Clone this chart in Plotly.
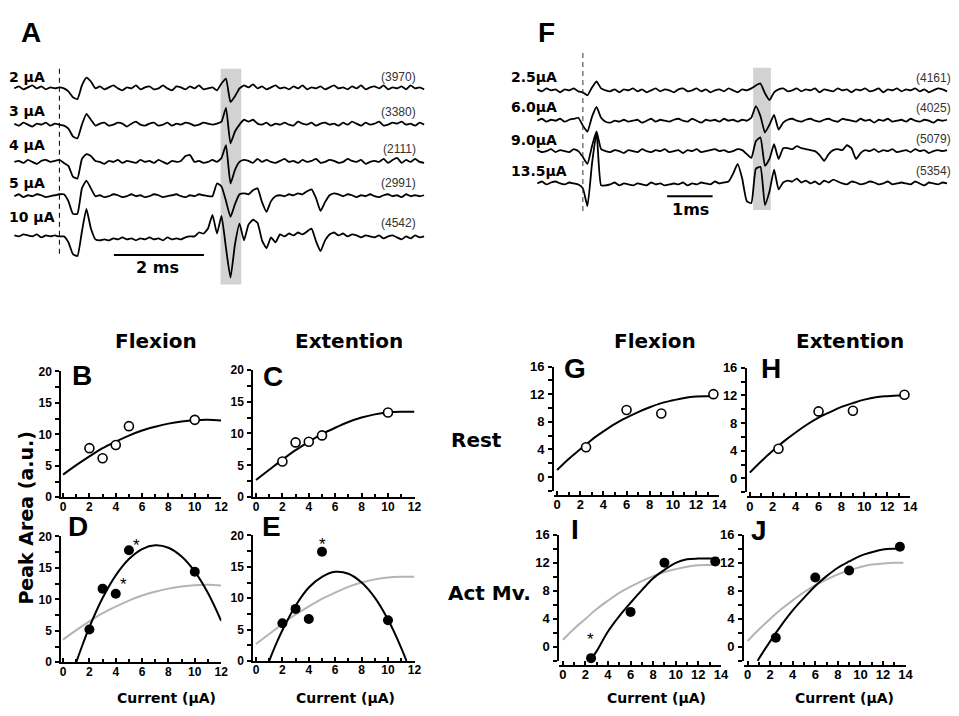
import numpy as np
import plotly.graph_objects as go

# ======================= DATA =======================
# --- Panel A: averaged sweeps (deflection, display units), t grid relative to stimulus (ms)
A_labels = ["2 µA", "3 µA", "4 µA", "5 µA", "10 µA"]
A_counts = ["(3970)", "(3380)", "(2111)", "(2991)", "(4542)"]
A_t_start, A_t_step = -1.0, 0.1
A_2uA = [0, 2, -1, 1, 3, 0, 2, -1, 1, 0,
         1, 0, -3, -9, -11, 3, 11, 7, 0, 2,
         -1, 1, 3, 0, -2, 1, 0, 3, -1, 1,
         2, -1, 0, 3, 0, -2, 2, 1, -1, 2,
         0, 3, -1, 0, 1, -2, 5, 10, -14, -8,
         0, 3, 1, 4, 0, 2, -1, 1, 3, 0,
         1, -1, 2, 0, 3, -1, 1, 0, 2, -1,
         1, 3, 0, 1, -1, 2, 0, 3, -1, 1,
         2, 0, 3, -1, 1, 0, 2, -1, 3, 0,
         1, -1]
A_3uA = [1, -1, 2, 0, -2, 1, 0, 2, -1, 1,
         0, -1, -4, -12, -14, 0, 11, 5, -1, 1,
         2, -1, 0, 2, 1, -2, 1, 3, 0, -1,
         1, 2, -1, 0, 2, -1, 1, 0, 2, 1,
         -1, 0, 2, 1, 0, 1, 3, 17, -19, -7,
         0, 5, 3, 5, 1, 0, 2, -1, 1, 0,
         2, 0, -1, 3, 1, 0, 2, -1, 1, 2,
         0, 1, -1, 2, 0, 3, 1, -1, 2, 0,
         1, 3, -1, 0, 2, 1, 3, 0, 1, -1,
         2, 0]
A_4uA = [0, 1, -1, 2, 0, -2, 1, 2, 0, 1,
         2, -1, -4, -15, -17, 3, 8, 6, 1, 0,
         -2, 1, 0, 2, -1, 1, 0, -1, 2, 0,
         1, -1, 2, 0, -2, 1, 0, 1, 6, 7,
         0, 1, -1, 0, 2, 0, 4, 17, -22, -8,
         0, 2, 1, -1, 3, 0, 2, 0, -1, 1,
         3, 0, 1, -1, 2, 0, 1, 3, -1, 0,
         2, 1, -1, 0, 3, 1, 0, 2, -2, 0,
         1, 0, 3, -1, 2, 4, -1, 2, 0, 3,
         0, -1]
A_5uA = [0, 2, -1, 1, 0, 2, 1, -1, 0, 1,
         2, 2, -5, -18, -18, 8, 16, 8, 0, 1,
         -1, 0, 2, 1, -1, 0, 2, 0, 1, -1,
         0, 2, 1, -1, 0, 1, 2, 0, -1, 1,
         0, 2, 1, 0, 0, 13, 10, -5, -21, -8,
         2, 3, 2, 6, 8, -6, -16, -5, 0, 1,
         0, 2, 1, 3, 2, 5, 7, -2, -15, -6,
         1, 3, 2, 0, 2, 1, -1, 1, 0, 2,
         0, -1, 1, 2, 0, 1, -1, 2, 0, 1,
         0, 1]
A_10uA = [1, 0, 2, 1, 0, 2, -1, 1, 0, 1,
          0, 0, -6, -18, -20, 5, 28, 8, -3, -4,
          -3, -4, -2, -3, -1, -3, -2, -4, -2, -3,
          -1, -3, -2, -4, -1, -3, -2, -3, -1, 0,
          0, 4, 3, 8, 22, 3, 21, -12, -42, -8,
          13, -4, 12, 17, 14, -4, -12, -1, -6, 2,
          0, 3, 1, 4, 2, 5, 8, -5, -15, -4,
          2, 4, 1, 3, 0, 2, 1, -1, 1, 0,
          -1, 1, -2, 0, 1, -1, -3, 0, -2, 1,
          -1, 0]
A_window_ms = (3.58, 4.04)
A_scale_ms = 2

# --- Panel F
F_labels = ["2.5µA", "6.0µA", "9.0µA", "13.5µA"]
F_counts = ["(4161)", "(4025)", "(5079)", "(5354)"]
F_t_start, F_t_step = -1.0, 0.1
F_2p5uA = [1, -1, 2, 0, 1, -2, 1, 0, 2, -1,
           -2, -5, 3, 9, 2, 0, -1, 1, -2, 1,
           0, 2, -1, 1, -2, 0, 2, -1, 1, 0,
           -2, 1, 2, -1, 0, 2, -1, 1, -2, 0,
           1, -1, 2, 0, -2, 1, 0, 2, 5, 7,
           -3, -10, -2, 1, 2, -1, 0, 2, -1, 1,
           0, 2, -2, 1, 0, -1, 2, 0, 1, -2,
           1, 0, 2, -1, 0, 2, -2, 1, 0, 2,
           -1, 1, 0, 2, -1, 1, -2, 0, 2, 1,
           -1]
F_6uA = [0, 2, -1, 1, 0, 2, -1, 1, 2, 3,
         -5, -11, 4, 14, 3, -1, -2, 0, -1, 1,
         -1, 0, 1, -2, 0, 2, -1, 1, 0, -1,
         1, 2, 0, -1, 2, 0, -2, 1, 0, 1,
         -1, 2, 0, 1, -1, 1, 0, 3, 15, 5,
         -12, -4, 6, -9, -2, 1, 2, 0, -1, 1,
         2, 0, -1, 1, 2, 0, -1, 2, 1, 0,
         -1, 2, 0, 1, -2, 1, 0, 2, -1, 0,
         1, -1, 2, 0, -1, 1, 0, -2, 1, 0,
         1]
F_9uA = [1, -1, 0, 2, -1, 1, 0, -1, 2, 0,
         -6, -13, 5, 20, 2, 0, -1, 1, 0, -2,
         1, 0, -1, 2, 0, -1, 1, 0, 2, -1,
         0, 1, -2, 1, 0, 2, -1, 0, 1, 2,
         0, 1, -1, 0, 2, 1, -3, -7, 10, 14,
         -15, -8, 7, -8, 3, 3, 2, 5, 3, 2,
         1, 0, -4, -10, -3, 1, 2, 1, 6, 3,
         -8, -2, 1, 0, 2, -1, 1, 0, 2, -1,
         0, 1, -1, 2, 0, 1, -2, 0, 1, 0,
         1]
F_13p5uA = [0, 2, -1, 1, 2, 0, -1, 1, 0, -1,
            -5, -23, 20, 52, -2, -2, -1, 1, -2, 0,
            -1, -2, 0, -1, -2, 1, -1, 0, -2, -1,
            0, -1, 1, -2, 0, -1, 1, 0, -1, 2,
            0, 1, 2, 10, 20, 5, -18, -20, 15, 17,
            -22, -8, 14, -6, 1, 3, 2, 5, 1, 3,
            0, 2, -1, 3, 1, 4, 2, 0, -1, 2,
            1, -1, 0, 2, 1, -1, 0, 2, -1, 0,
            1, 0, -1, 2, 0, -2, 1, 0, -1, 1,
            0]
F_window_ms = (3.74, 4.13)
F_scale_ms = 1

# --- Panels B-E (current in µA, peak area a.u.)
cur_BE = [2, 3, 4, 5, 10]
B_rest_flex = [7.8, 6.2, 8.3, 11.3, 12.3]
C_rest_ext = [5.6, 8.6, 8.7, 9.7, 13.3]
D_act_flex = [5.2, 11.7, 10.9, 17.8, 14.4]
E_act_ext = [6.0, 8.3, 6.7, 17.4, 6.5]
D_marked = [4, 5]
E_marked = [5]

fitx_rest_BE = [0, 1, 2, 3, 4, 5, 6, 7, 8, 9, 10, 11, 12]
B_fit = [3.6, 5.1, 6.5, 7.8, 8.85, 9.8, 10.6, 11.2, 11.7, 12.05, 12.25, 12.3, 12.2]
C_fit = [2.7, 4.3, 5.9, 7.4, 8.7, 9.9, 10.9, 11.8, 12.5, 13.0, 13.3, 13.4, 13.4]
D_fitx = [1, 1.5, 2, 3, 4, 5, 6, 7, 8, 9, 10, 11, 12]
D_fit = [0, 2.9, 5.6, 10.2, 13.8, 16.4, 18.0, 18.6, 18.2, 16.8, 14.4, 11.0, 6.6]
E_fitx = [1, 1.5, 2, 3, 4, 5, 6, 7, 8, 9, 10, 11, 11.4]
E_fit = [0, 2.6, 4.9, 8.8, 11.7, 13.4, 14.2, 13.9, 12.5, 10.1, 6.6, 2.1, 0]

# --- Panels G-J
cur_GJ = [2.5, 6, 9, 13.5]
G_rest_flex = [4.3, 9.7, 9.2, 12.0]
H_rest_ext = [4.3, 9.7, 9.8, 12.1]
I_act_flex = [-1.6, 5.0, 12.0, 12.2]
J_act_ext = [1.3, 9.9, 10.9, 14.3]
I_marked = [2.5]

fitx_rest_GJ = [0, 1, 2, 3, 4, 5, 6, 7, 8, 9, 10, 11, 12, 13, 13.8]
G_fit = [1.0, 2.6, 4.0, 5.4, 6.6, 7.7, 8.6, 9.4, 10.1, 10.7, 11.1, 11.45, 11.65, 11.7, 11.7]
H_fit = [0.85, 2.5, 4.0, 5.4, 6.65, 7.8, 8.8, 9.6, 10.35, 10.9, 11.4, 11.75, 11.9, 12.0, 12.0]
I_fitx = [2.7, 3, 4, 5, 6, 7, 8, 9, 10, 11, 12, 13, 13.8]
I_fit = [-1.3, -0.6, 2.2, 4.4, 6.3, 8.1, 9.8, 11.0, 12.0, 12.5, 12.6, 12.6, 12.6]
J_fitx = [0.9, 1, 2, 3, 4, 5, 6, 7, 8, 9, 10, 11, 12, 13, 13.8]
J_fit = [-2.0, -1.7, 0.8, 3.1, 5.2, 7.0, 8.7, 10.1, 11.3, 12.2, 13.0, 13.5, 13.9, 14.0, 14.0]

# ======================= LAYOUT HELPERS =======================
W, H = 959, 716
def fx(px): return px / W
def fy(py): return 1 - py / H

BOLD = "DejaVu Sans"
ARIAL = "Liberation Sans, Arial"
GRAY = "#b4b4b4"

fig = go.Figure()
ann = []
shapes = []

def txt(text, px, py, size, family=BOLD, bold=True, xanchor="center",
        yanchor="middle", color="black", angle=0, box_h=None):
    a = dict(text=text, x=fx(px), y=fy(py), xref="paper", yref="paper",
             xanchor=xanchor, yanchor=yanchor, showarrow=False, textangle=angle,
             font=dict(family=family, size=size, color=color,
                       weight="bold" if bold else "normal"))
    if box_h is not None:
        a["height"] = box_h
        a["valign"] = "middle"
    ann.append(a)

# ---------- sweeps panels ----------
A_sweeps = [A_2uA, A_3uA, A_4uA, A_5uA, A_10uA]
A_base_px = [83, 120, 158, 193, 234]
F_sweeps = [F_2p5uA, F_6uA, F_9uA, F_13p5uA]
F_base_px = [85, 116, 147, 180]

for sweeps, base, t0, dt, xa, ya in [(A_sweeps, A_base_px, A_t_start, A_t_step, "x", "y"),
                                      (F_sweeps, F_base_px, F_t_start, F_t_step, "x2", "y2")]:
    for vals, b in zip(sweeps, base):
        t = np.round(t0 + dt * np.arange(len(vals)), 3)
        fig.add_trace(go.Scatter(x=t, y=np.array(vals) - b, mode="lines",
                                 line=dict(color="black", width=1.8, shape="spline", smoothing=0.45),
                                 xaxis=xa, yaxis=ya, showlegend=False, hoverinfo="skip"))

A_stim_px, A_px_per_ms = 58, 45.5
F_stim_px, F_px_per_ms = 587, 46
lay = {}
lay["xaxis"] = dict(domain=[0, fx(440)], range=[(0 - A_stim_px) / A_px_per_ms, (440 - A_stim_px) / A_px_per_ms],
                    visible=False, anchor="y")
lay["yaxis"] = dict(domain=[fy(295), fy(40)], range=[-295, -40], visible=False, anchor="x")
lay["xaxis2"] = dict(domain=[fx(500), 1], range=[(500 - F_stim_px) / F_px_per_ms, (959 - F_stim_px) / F_px_per_ms],
                     visible=False, anchor="y2")
lay["yaxis2"] = dict(domain=[fy(220), fy(40)], range=[-220, -40], visible=False, anchor="x2")

# shading windows, stimulus dashed lines, scale bars
shapes.append(dict(type="rect", xref="x", yref="y", x0=A_window_ms[0], x1=A_window_ms[1], y0=-283, y1=-63,
                   fillcolor="#d2d2d2", line=dict(width=0), layer="below"))
shapes.append(dict(type="rect", xref="x2", yref="y2", x0=F_window_ms[0], x1=F_window_ms[1], y0=-207, y1=-62,
                   fillcolor="#d2d2d2", line=dict(width=0), layer="below"))
shapes.append(dict(type="line", xref="x", yref="y", x0=0, x1=0, y0=-63, y1=-252,
                   line=dict(color="black", width=1, dash="5px,4px")))
shapes.append(dict(type="line", xref="x2", yref="y2", x0=0, x1=0, y0=-47, y1=-210,
                   line=dict(color="#333", width=1, dash="5px,4px")))
shapes.append(dict(type="line", xref="x", yref="y", x0=1.21, x1=1.21 + A_scale_ms, y0=-253, y1=-253,
                   line=dict(color="black", width=2)))
shapes.append(dict(type="line", xref="x2", yref="y2", x0=1.85, x1=1.85 + F_scale_ms, y0=-193, y1=-193,
                   line=dict(color="black", width=2)))

txt("A", 29, 26, 28, ARIAL, box_h=24)
txt("F", 550, 25, 28, ARIAL, box_h=24)
for lab, py in zip(A_labels, [71, 106, 141, 180, 214]):
    txt(lab, 5, py, 14, xanchor="left")
for lab, py in zip(A_counts, [71, 107, 145, 180, 220]):
    txt(lab, 420, py, 12, ARIAL, bold=False, xanchor="right", color="#333")
for lab, py in zip(F_labels, [71, 102, 136, 167]):
    txt(lab, 512, py, 14, xanchor="left")
for lab, py in zip(F_counts, [72, 103, 135, 167]):
    txt(lab, 922, py, 12, ARIAL, bold=False, xanchor="left", color="#333")
txt("2 ms", 157, 266, 16)
txt("1ms", 696, 207, 16)

# ---------- scatter panels ----------
def axis_pair(n, xdom, ydom, xr, yr, xdt, ydt, ydt_minor, tsize, free_pos=None):
    tf = dict(family=ARIAL, size=tsize, color="black", weight="bold")
    xa = dict(domain=[fx(xdom[0]), fx(xdom[1])], range=xr, showline=True, linecolor="black", linewidth=2,
              showgrid=False, zeroline=False, ticks="inside", ticklen=4, tickwidth=1.5, tickcolor="black",
              tick0=0, dtick=xdt, tickfont=tf, ticklabelstandoff=-3,
              minor=dict(ticks="inside", dtick=1, tick0=0, ticklen=3, tickwidth=1.5, tickcolor="black"))
    if free_pos is None:
        xa["anchor"] = f"y{n}"
    else:
        xa["anchor"] = "free"
        xa["position"] = fy(free_pos)
    ya = dict(domain=[fy(ydom[1]), fy(ydom[0])], range=yr, showline=True, linecolor="black", linewidth=2,
              showgrid=False, zeroline=False, ticks="outside", ticklen=4, tickwidth=1.5, tickcolor="black",
              tick0=0, dtick=ydt, tickfont=tf, anchor=f"x{n}", ticklabelstandoff=1,
              minor=dict(ticks="outside", dtick=ydt_minor, tick0=0, ticklen=4, tickwidth=1.5, tickcolor="black"))
    lay[f"xaxis{n}"] = xa
    lay[f"yaxis{n}"] = ya

# B, C, D, E
axis_pair(3, (60, 221.7), (371.7, 500), [-0.13, 12.02], [0, 20], 2, 5, 2.5, 12)
axis_pair(4, (254, 417), (370, 500), [-0.2, 12.02], [0, 20], 2, 5, 2.5, 12)
axis_pair(5, (60, 221.7), (540, 668.3), [-0.13, 12.02], [0, 20], 2, 5, 2.5, 12)
axis_pair(6, (254, 417), (539, 667), [-0.2, 12.02], [0, 20], 2, 5, 2.5, 12)
# G, H, I, J
axis_pair(7, (558, 725), (366.7, 493.4), [-0.25, 14.02], [-2, 16], 2, 4, 2, 13, free_pos=498.3)
axis_pair(8, (752.8, 918), (368, 495), [-0.25, 14.02], [-2, 16], 2, 4, 2, 13, free_pos=500)
axis_pair(9, (563.3, 726.7), (538.3, 667), [-0.3, 14.02], [-2, 16], 2, 4, 2, 13, free_pos=671.7)
axis_pair(10, (750, 913.3), (538.3, 667), [-0.3, 14.02], [-2, 16], 2, 4, 2, 13, free_pos=671.7)

def curve(n, x, y, color="black"):
    fig.add_trace(go.Scatter(x=x, y=y, mode="lines", line=dict(color=color, width=2, shape="spline"),
                             xaxis=f"x{n}", yaxis=f"y{n}", showlegend=False, hoverinfo="skip"))

def points(n, x, y, filled):
    mk = dict(size=10, color="black") if filled else dict(size=9, color="white", line=dict(color="black", width=1.6))
    fig.add_trace(go.Scatter(x=x, y=y, mode="markers", marker=mk, cliponaxis=False,
                             xaxis=f"x{n}", yaxis=f"y{n}", showlegend=False, hoverinfo="skip"))

def star(n, xv, xs, ys, dx, dy):
    yv = ys[xs.index(xv)]
    ann.append(dict(text="*", x=xv, y=yv, xref=f"x{n}", yref=f"y{n}", showarrow=False,
                    xshift=dx, yshift=dy, font=dict(family=ARIAL, size=17, color="black")))

# Rest panels
curve(3, fitx_rest_BE, B_fit); points(3, cur_BE, B_rest_flex, False)
curve(4, fitx_rest_BE, C_fit); points(4, cur_BE, C_rest_ext, False)
# Active movement panels (grey = rest fit)
curve(5, fitx_rest_BE, B_fit, GRAY); curve(5, D_fitx, D_fit); points(5, cur_BE, D_act_flex, True)
curve(6, fitx_rest_BE, C_fit, GRAY); curve(6, E_fitx, E_fit); points(6, cur_BE, E_act_ext, True)
curve(7, fitx_rest_GJ, G_fit); points(7, cur_GJ, G_rest_flex, False)
curve(8, fitx_rest_GJ, H_fit); points(8, cur_GJ, H_rest_ext, False)
curve(9, fitx_rest_GJ, G_fit, GRAY); curve(9, I_fitx, I_fit); points(9, cur_GJ, I_act_flex, True)
curve(10, fitx_rest_GJ, H_fit, GRAY); curve(10, J_fitx, J_fit); points(10, cur_GJ, J_act_ext, True)

for xv in D_marked:
    star(5, xv, cur_BE, D_act_flex, 8, 5 if xv == 5 else 9)
for xv in E_marked:
    star(6, xv, cur_BE, E_act_ext, 1, 7)
for xv in I_marked:
    star(9, xv, cur_GJ, I_act_flex, -1, 19)

# panel letters
for L, px, py in [("B", 81, 375), ("C", 274, 376), ("D", 77, 529), ("E", 272, 529),
                  ("G", 579, 368), ("H", 777, 368), ("I", 579, 532), ("J", 765, 533)]:
    txt(L, px, py, 28, ARIAL, box_h=24)

# titles
txt("Flexion", 156, 341, 20)
txt("Extention", 351, 341, 20)
txt("Flexion", 660, 341, 20)
txt("Extention", 857, 341, 20)
txt("Rest", 479, 442, 20)
txt("Act Mv.", 493, 598, 20)
txt("Peak Area (a.u.)", 24, 521, 19, angle=-90)
for px in [166, 347, 661, 851]:
    txt("Current (µA)", px, 705, 14)

fig.update_layout(width=W, height=H, margin=dict(l=0, r=0, t=0, b=0),
                  paper_bgcolor="white", plot_bgcolor="rgba(0,0,0,0)",
                  annotations=ann, shapes=shapes, showlegend=False, **lay)
fig.write_html("out.html", config={"displayModeBar": False},
               post_script="document.body.style.margin='0px';")
